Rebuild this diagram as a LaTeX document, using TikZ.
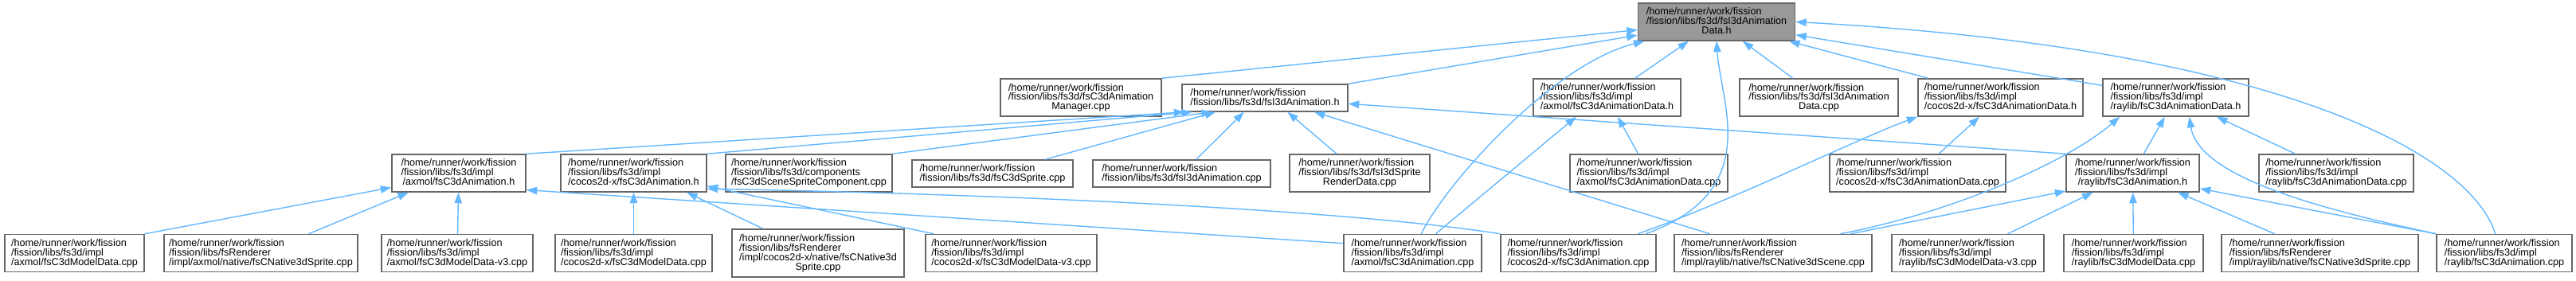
\documentclass[tikz,border=0pt]{standalone}
\usepackage{fontspec}
\usepackage{tikz}
\usetikzlibrary{arrows.meta}

\newfontfamily\doxfont{Liberation Sans}
\definecolor{edgeblue}{HTML}{63B8FF}
\definecolor{boxgray}{HTML}{666666}
\definecolor{rootgray}{HTML}{999999}
\renewcommand{\arraystretch}{0.76}
% first lines flush left, last line centred
\newcommand{\flabel}[2]{\begin{tabular}{@{}l@{}}#1\\\multicolumn{1}{@{}c@{}}{#2}\end{tabular}}

\begin{document}
\begin{tikzpicture}[
  >={Triangle[length=1.35mm,width=0.95mm]},
  fbox/.style={draw=boxgray, fill=white, line width=0.42pt, inner sep=0pt, font=\doxfont\fontsize{3.6pt}{3.41pt}\selectfont},
  rootbox/.style={fbox, fill=rootgray},
  wd/.style={minimum width=#1cm},
  h2/.style={minimum height=0.34cm},
  h3/.style={minimum height=0.47cm},
  h4/.style={minimum height=0.60cm},
  incl/.style={->, draw=edgeblue, line width=0.4pt}
]
  \useasboundingbox (0,0) rectangle (32.34,-3.53);

  % top
  \node[rootbox,h3,wd=1.97] (T) at (21.55,-0.275) {\flabel{/home/runner/work/fission\\/fission/libs/fs3d/fsI3dAnimation}{Data.h}};

  % row 2
  \node[fbox,h3,wd=2.02] (mgr) at (13.57,-1.225) {\flabel{/home/runner/work/fission\\/fission/libs/fs3d/fsC3dAnimation}{Manager.cpp}};
  \node[fbox,h2,wd=2.08] (ianimh) at (15.88,-1.23) {\flabel{/home/runner/work/fission}{/fission/libs/fs3d/fsI3dAnimation.h}};
  \node[fbox,h3,wd=1.85] (axdatah) at (20.175,-1.225) {\flabel{/home/runner/work/fission\\/fission/libs/fs3d/impl}{/axmol/fsC3dAnimationData.h}};
  \node[fbox,h3,wd=1.99] (idatacpp) at (22.835,-1.225) {\flabel{/home/runner/work/fission\\/fission/libs/fs3d/fsI3dAnimation}{Data.cpp}};
  \node[fbox,h3,wd=2.07] (ccdatah) at (25.115,-1.225) {\flabel{/home/runner/work/fission\\/fission/libs/fs3d/impl}{/cocos2d-x/fsC3dAnimationData.h}};
  \node[fbox,h3,wd=1.83] (rldatah) at (27.315,-1.225) {\flabel{/home/runner/work/fission\\/fission/libs/fs3d/impl}{/raylib/fsC3dAnimationData.h}};

  % row 3
  \node[fbox,h3,wd=1.68] (axanimh) at (5.76,-2.175) {\flabel{/home/runner/work/fission\\/fission/libs/fs3d/impl}{/axmol/fsC3dAnimation.h}};
  \node[fbox,h3,wd=1.83] (ccanimh) at (7.955,-2.175) {\flabel{/home/runner/work/fission\\/fission/libs/fs3d/impl}{/cocos2d-x/fsC3dAnimation.h}};
  \node[fbox,h3,wd=2.09] (scomp) at (10.155,-2.175) {\flabel{/home/runner/work/fission\\/fission/libs/fs3d/components}{/fsC3dSceneSpriteComponent.cpp}};
  \node[fbox,h2,wd=2.02] (sprite) at (12.46,-2.18) {\flabel{/home/runner/work/fission}{/fission/libs/fs3d/fsC3dSprite.cpp}};
  \node[fbox,h2,wd=2.23] (ianimcpp) at (14.835,-2.18) {\flabel{/home/runner/work/fission}{/fission/libs/fs3d/fsI3dAnimation.cpp}};
  \node[fbox,h3,wd=1.76] (rdata) at (17.07,-2.175) {\flabel{/home/runner/work/fission\\/fission/libs/fs3d/fsI3dSprite}{RenderData.cpp}};
  \node[fbox,h3,wd=1.98] (axdatacpp) at (20.70,-2.175) {\flabel{/home/runner/work/fission\\/fission/libs/fs3d/impl}{/axmol/fsC3dAnimationData.cpp}};
  \node[fbox,h3,wd=2.21] (ccdatacpp) at (24.075,-2.175) {\flabel{/home/runner/work/fission\\/fission/libs/fs3d/impl}{/cocos2d-x/fsC3dAnimationData.cpp}};
  \node[fbox,h3,wd=1.67] (rlanimh) at (26.775,-2.175) {\flabel{/home/runner/work/fission\\/fission/libs/fs3d/impl}{/raylib/fsC3dAnimation.h}};
  \node[fbox,h3,wd=1.94] (rldatacpp) at (29.33,-2.175) {\flabel{/home/runner/work/fission\\/fission/libs/fs3d/impl}{/raylib/fsC3dAnimationData.cpp}};

  % row 4
  \node[fbox,h3,wd=1.75] (axmd) at (0.935,-3.18) {\flabel{/home/runner/work/fission\\/fission/libs/fs3d/impl}{/axmol/fsC3dModelData.cpp}};
  \node[fbox,h3,wd=2.43] (axsprite) at (3.275,-3.18) {\flabel{/home/runner/work/fission\\/fission/libs/fsRenderer}{/impl/axmol/native/fsCNative3dSprite.cpp}};
  \node[fbox,h3,wd=1.90] (axmdv) at (5.74,-3.18) {\flabel{/home/runner/work/fission\\/fission/libs/fs3d/impl}{/axmol/fsC3dModelData-v3.cpp}};
  \node[fbox,h3,wd=1.97] (ccmd) at (7.955,-3.18) {\flabel{/home/runner/work/fission\\/fission/libs/fs3d/impl}{/cocos2d-x/fsC3dModelData.cpp}};
  \node[fbox,h4,wd=2.16] (ccsprite) at (10.27,-3.18) {\flabel{/home/runner/work/fission\\/fission/libs/fsRenderer\\/impl/cocos2d-x/native/fsCNative3d}{Sprite.cpp}};
  \node[fbox,h3,wd=2.15] (ccmdv) at (12.695,-3.18) {\flabel{/home/runner/work/fission\\/fission/libs/fs3d/impl}{/cocos2d-x/fsC3dModelData-v3.cpp}};
  \node[fbox,h3,wd=1.73] (axanimcpp) at (17.735,-3.18) {\flabel{/home/runner/work/fission\\/fission/libs/fs3d/impl}{/axmol/fsC3dAnimation.cpp}};
  \node[fbox,h3,wd=1.95] (ccanimcpp) at (19.815,-3.18) {\flabel{/home/runner/work/fission\\/fission/libs/fs3d/impl}{/cocos2d-x/fsC3dAnimation.cpp}};
  \node[fbox,h3,wd=2.48] (rlscene) at (22.26,-3.18) {\flabel{/home/runner/work/fission\\/fission/libs/fsRenderer}{/impl/raylib/native/fsCNative3dScene.cpp}};
  \node[fbox,h3,wd=1.91] (rlmdv) at (24.705,-3.18) {\flabel{/home/runner/work/fission\\/fission/libs/fs3d/impl}{/raylib/fsC3dModelData-v3.cpp}};
  \node[fbox,h3,wd=1.75] (rlmd) at (26.785,-3.18) {\flabel{/home/runner/work/fission\\/fission/libs/fs3d/impl}{/raylib/fsC3dModelData.cpp}};
  \node[fbox,h3,wd=2.47] (rlsprite) at (29.125,-3.18) {\flabel{/home/runner/work/fission\\/fission/libs/fsRenderer}{/impl/raylib/native/fsCNative3dSprite.cpp}};
  \node[fbox,h3,wd=1.70] (rlanimcpp) at (31.44,-3.18) {\flabel{/home/runner/work/fission\\/fission/libs/fs3d/impl}{/raylib/fsC3dAnimation.cpp}};

  % included by -> top
  \draw[incl] (mgr.north east) -- (T);
  \draw[incl] (ianimh.north east) -- (T);
  \draw[incl] (axanimcpp.66) .. controls (18.15,-2.30) and (19.50,-0.80) .. (T.-165);
  \draw[incl] (axdatah) -- (T);
  \draw[incl] (ccanimcpp.16) .. controls (22.15,-2.40) and (21.60,-1.30) .. (T.south);
  \draw[incl] (idatacpp) -- (T);
  \draw[incl] (ccdatah) -- (T);
  \draw[incl] (rldatah) -- (T);
  \draw[incl] (rlanimcpp.115) .. controls (31.00,-1.90) and (28.50,-0.60) .. (T.east);

  % fsI3dAnimation.h
  \draw[incl] (axanimh.north east) -- (ianimh.-170);
  \draw[incl] (ccanimh.north east) -- (ianimh.-169);
  \draw[incl] (scomp.north east) -- (ianimh.-165);
  \draw[incl] (sprite.15) -- (ianimh.-164);
  \draw[incl] (ianimcpp.44) -- (ianimh.-146);
  \draw[incl] (rdata.140) -- (ianimh.-32);
  \draw[incl] (rlscene.163) -- (ianimh.-16);
  \draw[incl] (rlanimh.north west) -- (ianimh.-4);

  % animation data headers
  \draw[incl] (axanimcpp.40) -- (axdatah.-148);
  \draw[incl] (axdatacpp) -- (axdatah);
  \draw[incl] (ccanimcpp.18) .. controls (21.80,-2.50) and (23.30,-1.75) .. (ccdatah.south west);
  \draw[incl] (ccdatacpp) -- (ccdatah);
  \draw[incl] (rlscene.16) .. controls (24.60,-2.65) and (26.00,-2.00) .. (rldatah.-161);
  \draw[incl] (rlanimh) -- (rldatah);
  \draw[incl] (rlanimcpp.north west) .. controls (29.00,-2.60) and (27.60,-2.20) .. (rldatah.-55);
  \draw[incl] (rldatacpp) -- (rldatah);

  % animation headers
  \draw[incl] (axmd.north east) -- (axanimh.-168);
  \draw[incl] (axsprite.22) -- (axanimh.-159);
  \draw[incl] (axmdv) -- (axanimh);
  \draw[incl] (axanimcpp.172) -- (axanimh.-14);
  \draw[incl] (ccmd) -- (ccanimh);
  \draw[incl] (ccsprite.156) -- (ccanimh.-20);
  \draw[incl] (ccmdv.166) -- (ccanimh.-10);
  \draw[incl] (ccanimcpp.north west) .. controls (17.00,-2.65) and (13.00,-2.45) .. (ccanimh.-12);
  \draw[incl] (rlscene.14) -- (rlanimh.-165);
  \draw[incl] (rlmdv) -- (rlanimh);
  \draw[incl] (rlmd) -- (rlanimh);
  \draw[incl] (rlsprite) -- (rlanimh);
  \draw[incl] (rlanimcpp.north west) -- (rlanimh.-13);
\end{tikzpicture}
\end{document}
